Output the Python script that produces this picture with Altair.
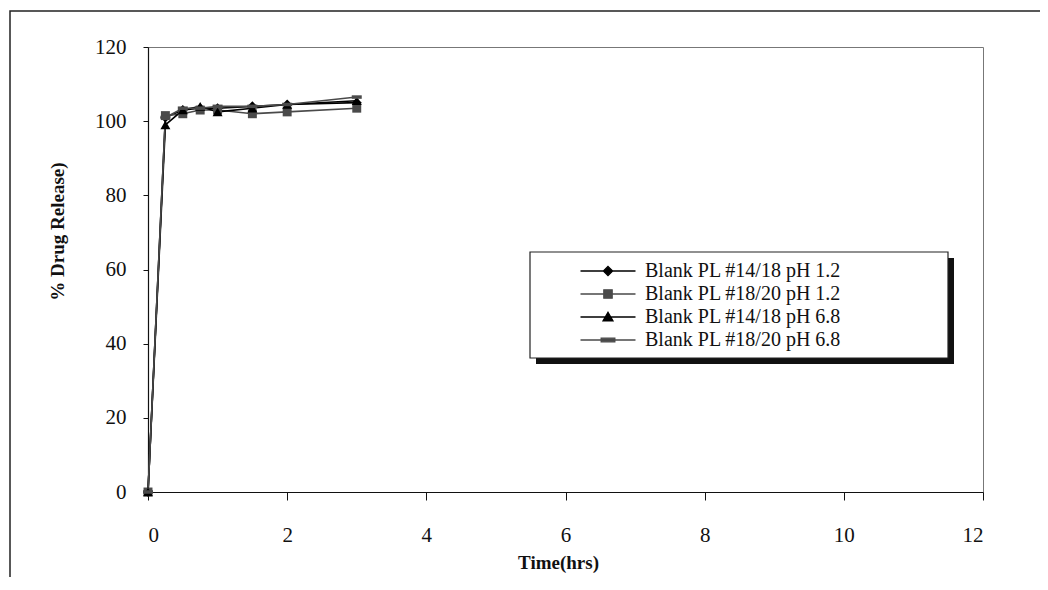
import altair as alt
import pandas as pd

# ---- data ----
times = [0, 0.25, 0.5, 0.75, 1, 1.5, 2, 3]
series_names = [
    "Blank PL #14/18 pH 1.2",
    "Blank PL #18/20 pH 1.2",
    "Blank PL #14/18  pH 6.8",
    "Blank PL #18/20 pH 6.8",
]
s1 = [0, 101.0, 103.0, 103.5, 103.5, 104.0, 104.5, 105.0]
s2 = [0, 101.5, 102.0, 103.0, 103.0, 102.0, 102.5, 103.5]
s3 = [0, 99.0, 103.0, 104.0, 102.5, 103.5, 104.5, 105.5]
s4 = [0, 101.0, 103.5, 103.5, 104.0, 104.0, 104.5, 106.5]
all_series = [s1, s2, s3, s4]

x_ticks = [0, 2, 4, 6, 8, 10, 12]
y_ticks = [0, 20, 40, 60, 80, 100, 120]

rows = []
for name, vals in zip(series_names, all_series):
    for t, v in zip(times, vals):
        rows.append({"t": t, "v": v, "series": name})
df = pd.DataFrame(rows)
box_df = pd.DataFrame({"k": [0]})

FONT = "Liberation Serif"
line_colors = ["#111111", "#555555", "#111111", "#555555"]
leg_fill = ["#000000", "#4a4a4a", "#000000", "#4a4a4a"]
leg_stroke = ["#000000", "#777777", "#000000", "#777777"]
marker_shapes = ["diamond", "square", "triangle-up", "M-1,-0.35H1V0.35H-1Z"]
marker_sizes = [100, 80, 100, 100]
legend_paths = [
    "M-2.5,0H2.5M0,-0.42L0.42,0L0,0.42L-0.42,0Z",
    "M-2.5,0H2.5M-0.38,-0.38H0.38V0.38H-0.38Z",
    "M-2.5,0H2.5M0,-0.42L0.45,0.34H-0.45Z",
    "M-2.5,0H2.5M-0.62,-0.17H0.62V0.17H-0.62Z",
]

X = alt.X("t:Q", scale=alt.Scale(domain=[0, 12], nice=False),
          axis=alt.Axis(values=x_ticks, title="Time(hrs)", grid=False,
                        tickSize=8, labelPadding=24, titleX=410, titleY=70,
                        titleBaseline="middle", titleAlign="center"))
Y = alt.Y("v:Q", scale=alt.Scale(domain=[0, 120], nice=False),
          axis=alt.Axis(values=y_ticks, title="% Drug Release)", grid=False,
                        tickSize=5, labelPadding=17, titleX=-91, titleY=184,
                        titleAngle=-90, titleBaseline="middle", titleAlign="center"))

color_nolegend = alt.Color("series:N", scale=alt.Scale(domain=series_names, range=line_colors),
                           legend=None)

frame = alt.Chart(box_df).mark_rect(filled=False, stroke="#222222", strokeWidth=1.5).encode(
    x=alt.value(-138), x2=alt.value(900), y=alt.value(-36), y2=alt.value(553))

legend_layer = alt.Chart(df).transform_filter("datum.t < 0").mark_point(
    filled=True, opacity=1, strokeWidth=1.3).encode(
    x=X, y=Y,
    color=alt.Color("series:N", scale=alt.Scale(domain=series_names, range=leg_fill),
                    legend=alt.Legend(title=None, orient="none", legendX=448, legendY=212,
                                      labelFont=FONT, labelFontSize=20, labelColor="#111111",
                                      labelLimit=500, symbolSize=484, symbolOffset=0,
                                      labelOffset=25, rowPadding=1, padding=0,
                                      symbolStrokeWidth=1.3)),
    stroke=alt.Stroke("series:N", scale=alt.Scale(domain=series_names, range=leg_stroke)),
    shape=alt.Shape("series:N", scale=alt.Scale(domain=series_names, range=legend_paths)),
)

lines = alt.Chart(df).mark_line(strokeWidth=1.6).encode(
    x=X, y=Y, color=color_nolegend, detail="series:N", order="t:Q")

marker_layers = []
for name, shp, sz in zip(series_names, marker_shapes, marker_sizes):
    marker_layers.append(
        alt.Chart(df).transform_filter(alt.datum.series == name).mark_point(
            filled=True, opacity=1, shape=shp, size=sz).encode(
            x=X, y=Y, color=color_nolegend))

shadow = alt.Chart(box_df).mark_rect(color="#111111").encode(
    x=alt.value(388), x2=alt.value(806), y=alt.value(211), y2=alt.value(317))
box = alt.Chart(box_df).mark_rect(fill="white", stroke="#222222", strokeWidth=1.2).encode(
    x=alt.value(382), x2=alt.value(800), y=alt.value(205), y2=alt.value(311))

chart = alt.layer(frame, legend_layer, lines, *marker_layers, shadow, box).properties(
    width=835, height=445,
    padding={"left": 140, "top": 39, "right": 57, "bottom": 85},
    autosize=alt.AutoSizeParams(type="none"),
    background="white",
).configure_view(stroke="#777777", strokeWidth=1).configure_axis(
    domainColor="#111111", domainWidth=1.2, tickColor="#111111", tickWidth=1,
    labelFont=FONT, labelFontSize=21, labelColor="#111111",
    titleFont=FONT, titleFontSize=19, titleFontWeight="bold", titleColor="#111111",
)

chart.save("out.html", embed_options={"renderer": "svg", "actions": False})
